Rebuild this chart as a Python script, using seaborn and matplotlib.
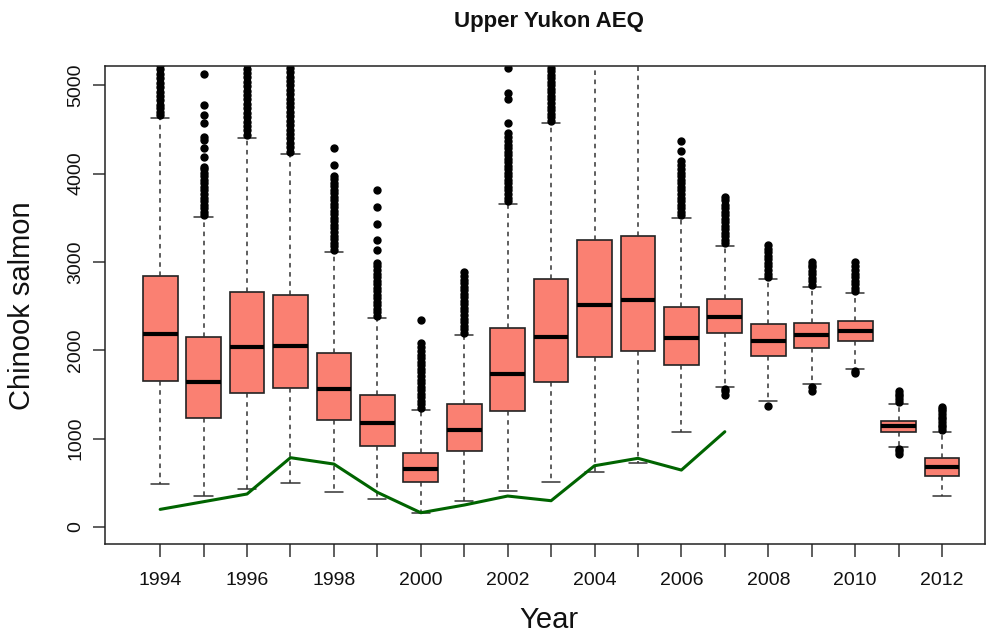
import matplotlib
matplotlib.use("Agg")
import matplotlib.pyplot as plt
import seaborn as sns

# ---------------- data ----------------
years = [1994, 1995, 1996, 1997, 1998, 1999, 2000, 2001, 2002, 2003,
         2004, 2005, 2006, 2007, 2008, 2009, 2010, 2011, 2012]
q1 = [1656, 1230, 1520, 1570, 1211, 920, 509, 864, 1313, 1638,
      1928, 1996, 1834, 2193, 1936, 2023, 2109, 1079, 581]
median = [2185, 1638, 2034, 2049, 1558, 1174, 660, 1098, 1732, 2155,
          2509, 2570, 2136, 2377, 2109, 2170, 2222, 1143, 676]
q3 = [2841, 2147, 2664, 2626, 1973, 1494, 834, 1389, 2257, 2804,
      3249, 3294, 2487, 2581, 2298, 2313, 2332, 1203, 778]
whisker_low = [487, 351, 427, 494, 400, 313, 160, 294, 408, 509,
               623, 721, 1072, 1588, 1430, 1615, 1785, 902, 351]
whisker_high = [4626, 3506, 4407, 4219, 3113, 2362, 1324, 2173, 3656, 4577,
                5600, 5600, 3502, 3185, 2804, 2713, 2645, 1392, 1075]

out_1994 = [4660, 4700, 4740, 4780, 4830, 4880, 4930, 4980, 5030, 5080, 5130, 5180, 5230]
out_1995 = [3530, 3570, 3610, 3650, 3690, 3730, 3770, 3810, 3850, 3890, 3930, 3970,
            4010, 4050, 4080, 4190, 4290, 4380, 4420, 4570, 4660, 4780, 5130]
out_1996 = [4440, 4490, 4540, 4590, 4640, 4690, 4740, 4790, 4840, 4890, 4940, 4990,
            5040, 5090, 5140, 5190, 5240]
out_1997 = [4250, 4300, 4350, 4400, 4450, 4500, 4550, 4600, 4650, 4700, 4750, 4800,
            4850, 4900, 4950, 5000, 5050, 5100, 5150, 5200, 5240]
out_1998 = [3140, 3180, 3220, 3260, 3300, 3340, 3380, 3420, 3460, 3500, 3540, 3580,
            3620, 3660, 3700, 3740, 3780, 3820, 3860, 3900, 3940, 3970, 4100, 4290]
out_1999 = [2390, 2430, 2470, 2510, 2550, 2590, 2630, 2670, 2710, 2750, 2790, 2830,
            2870, 2910, 2950, 2990, 3140, 3250, 3430, 3620, 3820]
out_2000 = [1350, 1390, 1430, 1470, 1510, 1550, 1590, 1630, 1670, 1710, 1750, 1790,
            1830, 1870, 1910, 1950, 1990, 2040, 2080, 2340]
out_2001 = [2200, 2240, 2280, 2320, 2360, 2400, 2440, 2480, 2520, 2560, 2600, 2640,
            2680, 2720, 2760, 2800, 2840, 2890]
out_2002 = [3690, 3730, 3770, 3810, 3850, 3890, 3930, 3970, 4010, 4050, 4090, 4130,
            4170, 4210, 4250, 4290, 4330, 4370, 4410, 4460, 4570, 4850, 4910, 5200]
out_2003 = [4600, 4640, 4680, 4720, 4760, 4800, 4840, 4880, 4920, 4960, 5000, 5040,
            5080, 5120, 5160, 5200, 5240]
out_2004 = []
out_2005 = []
out_2006 = [3530, 3570, 3610, 3650, 3690, 3730, 3770, 3810, 3850, 3890, 3930, 3970,
            4010, 4050, 4100, 4140, 4260, 4370]
out_2007 = [3210, 3250, 3290, 3330, 3370, 3410, 3450, 3490, 3530, 3570, 3610, 3650,
            3700, 3740, 1500, 1540, 1560]
out_2008 = [2830, 2870, 2910, 2950, 2990, 3030, 3070, 3110, 3150, 3190, 1370]
out_2009 = [2740, 2780, 2820, 2860, 2900, 2940, 2970, 3000, 1545, 1580]
out_2010 = [2670, 2710, 2750, 2790, 2830, 2870, 2910, 2950, 3000, 1740, 1770]
out_2011 = [1420, 1450, 1480, 1510, 1540, 830, 860, 880]
out_2012 = [1100, 1130, 1160, 1190, 1220, 1250, 1280, 1310, 1340, 1360]

escapement_years = [1994, 1995, 1996, 1997, 1998, 1999, 2000, 2001, 2002, 2003,
                    2004, 2005, 2006, 2007]
escapement = [200, 287, 374, 785, 713, 393, 162, 249, 351, 298, 694, 778, 645, 1079]

fliers = [out_1994, out_1995, out_1996, out_1997, out_1998, out_1999, out_2000,
          out_2001, out_2002, out_2003, out_2004, out_2005, out_2006, out_2007,
          out_2008, out_2009, out_2010, out_2011, out_2012]

# ---------------- style ----------------
sns.set_style("white")
plt.rcParams['font.family'] = ['Liberation Sans', 'DejaVu Sans']
plt.rcParams['text.color'] = '#111111'

W, H = 987, 634
fig = plt.figure(figsize=(W / 100, H / 100), dpi=100)
ax = fig.add_axes([105 / W, (H - 544) / H, (985 - 105) / W, (544 - 66) / H])

stats = []
for i, y in enumerate(years):
    stats.append(dict(med=median[i], q1=q1[i], q3=q3[i],
                      whislo=whisker_low[i], whishi=whisker_high[i],
                      fliers=fliers[i], label=str(y)))

ax.bxp(stats, positions=years, widths=0.8, capwidths=0.42, patch_artist=True,
       boxprops=dict(facecolor='#FA8072', edgecolor='#222222', linewidth=1.2),
       medianprops=dict(color='black', linewidth=3.0, solid_capstyle='butt'),
       whiskerprops=dict(color='#333333', linestyle=(0, (3, 3)), linewidth=1.1),
       capprops=dict(color='#333333', linewidth=1.1),
       flierprops=dict(marker='o', markerfacecolor='black', markeredgecolor='black',
                       markersize=5, linestyle='none'))

sns.lineplot(x=escapement_years, y=escapement, color='#006400', linewidth=2.2, ax=ax)

ax.set_xlim(1992.73, 2012.99)
ax.set_ylim(-192, 5219)
ax.set_xticks(years)
ax.set_xticklabels([str(y) if y % 2 == 0 else '' for y in years], fontsize=14)
ax.set_yticks([0, 1000, 2000, 3000, 4000, 5000])
ax.set_yticklabels(['0', '1000', '2000', '3000', '4000', '5000'],
                   fontsize=14, rotation=90, va='center')
ax.tick_params(axis='x', bottom=True, direction='out', length=9, width=1.1, pad=11,
               color='#333333', labelcolor='#111111')
ax.tick_params(axis='y', left=True, direction='out', length=9, width=1.1, pad=6,
               color='#333333', labelcolor='#111111')
for s in ax.spines.values():
    s.set_visible(True)
    s.set_color('#222222')
    s.set_linewidth(1.1)
ax.set_xlabel('')
ax.set_ylabel('')

fig.text(549 / W, 1 - 21 / H, 'Upper Yukon AEQ', ha='center', va='center',
         fontsize=16, fontweight='bold')
fig.text(22 / W, 1 - 306 / H, 'Chinook salmon', ha='center', va='center',
         rotation=90, fontsize=21)
fig.text(549 / W, 1 - 620 / H, 'Year', ha='center', va='center', fontsize=21)

fig.savefig('out.png', dpi=100)
